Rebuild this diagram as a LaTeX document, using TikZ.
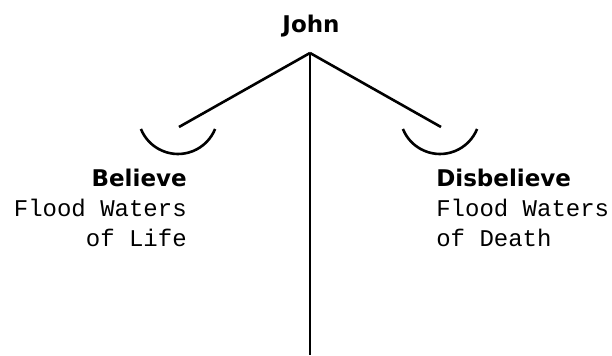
\documentclass[tikz,border=0pt]{standalone}
\usepackage{fontspec}
\setmainfont{DejaVu Sans}
\newfontfamily\flood{Liberation Mono}
\usepackage{tikz}

\begin{document}
\begin{tikzpicture}[x=0.5pt, y=-0.5pt, line width=1.3pt,
    head/.style={font=\fontsize{11.5}{13}\selectfont\bfseries, inner sep=0pt},
    waters/.style={font=\fontsize{12}{14}\selectfont\flood, inner sep=0pt}]
    \useasboundingbox (0,0) rectangle (612,356);
    \coordinate (apex) at (310,53);
    \coordinate (left) at (179,127);
    \coordinate (right) at (441,127);
    \coordinate (foot) at (310,355);
    \node[head, anchor=base] (john) at (311,33) {John};
    % the two branches and the dividing line
    \draw (apex) -- (left);
    \draw (apex) -- (right);
    \draw[line width=1pt] (apex) -- (foot);
    % cups under the branches
    \draw ([shift={(158:40)}]178,114) arc[start angle=158, end angle=22, radius=40];
    \draw ([shift={(158:40)}]440,114) arc[start angle=158, end angle=22, radius=40];
    % left side
    \node[head, anchor=base east] (believe) at (188,187) {Believe};
    \node[waters, anchor=base east] (lifea) at (188,217) {Flood Waters};
    \node[waters, anchor=base east] (lifeb) at (188,247) {of Life};
    % right side
    \node[head, anchor=base west] (disbelieve) at (435,187) {Disbelieve};
    \node[waters, anchor=base west] (deatha) at (435,217) {Flood Waters};
    \node[waters, anchor=base west] (deathb) at (435,247) {of Death};
\end{tikzpicture}
\end{document}
